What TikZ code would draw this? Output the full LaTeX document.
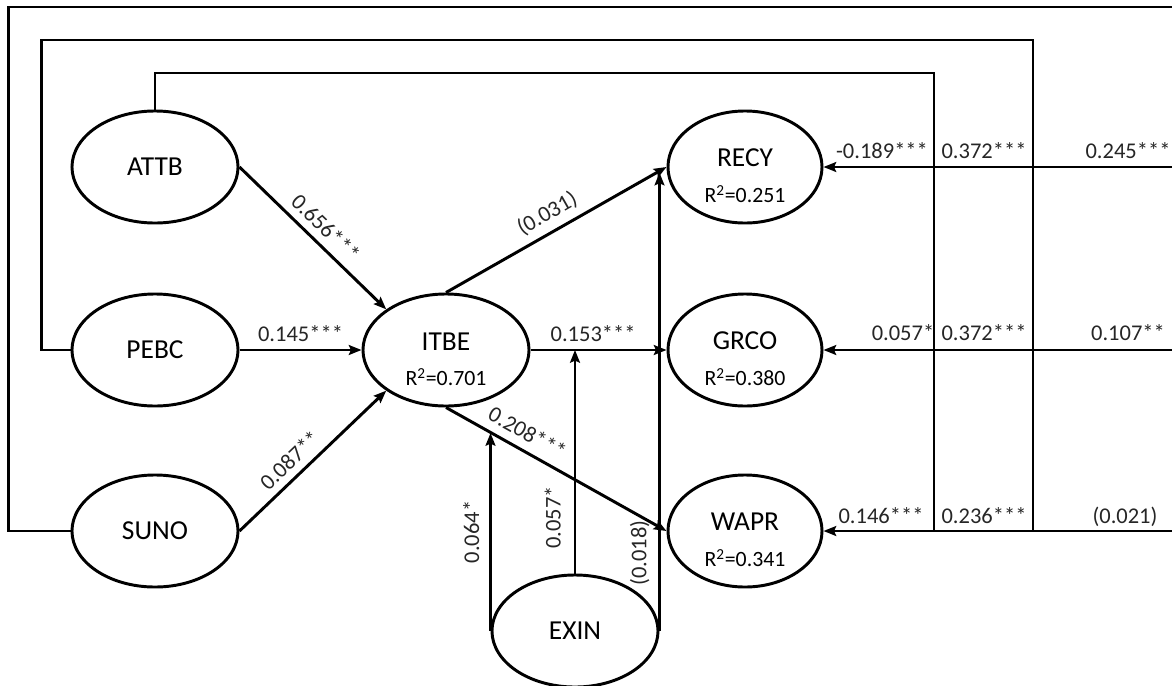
\documentclass[tikz,border=0pt]{standalone}
\usepackage{fontspec}
\setmainfont{Carlito}
\usetikzlibrary{shapes.geometric,arrows.meta}

\begin{document}
\begin{tikzpicture}[x=0.025cm, y=-0.025cm, line width=2.1pt,
	>={Stealth[length=9pt,width=7pt,inset=1.5pt]},
	lat/.style={ellipse, draw, inner sep=0pt,
		minimum width=4.15cm, minimum height=2.8cm,
		font=\fontsize{19.5}{22}\selectfont},
	dip/.style={lat, minimum width=3.85cm},
	nome/.style={inner sep=0pt, font=\fontsize{19.5}{22}\selectfont},
	erre/.style={inner sep=0pt, font=\fontsize{15.5}{18}\selectfont},
	coef/.style={inner sep=1pt, text=black!85, font=\fontsize{16}{19}\selectfont},
	]
	
	\useasboundingbox (0,0) rectangle (1172,685);
	
	%% -- Costrutti a sinistra ------------------------------------------------
	\node[lat] (attb) at (155,167) {ATTB};
	\node[lat] (pebc) at (155,350) {PEBC};
	\node[lat] (suno) at (155,531) {SUNO};
	
	%% -- Intenzione e moderatore ---------------------------------------------
	\node[lat] (itbe) at (446,350) {};
	\node[nome] (itbeN) at (446,342) {ITBE};
	\node[erre] (itbeR) at (446,377) {R\textsuperscript{2}=0.701};
	\node[lat] (exin) at (575,631) {EXIN};
	
	%% -- Comportamenti -------------------------------------------------------
	\node[dip] (recy) at (745,167) {};
	\node[nome] (recyN) at (745,158) {RECY};
	\node[erre] (recyR) at (745,194) {R\textsuperscript{2}=0.251};
	\node[dip] (grco) at (745,350) {};
	\node[nome] (grcoN) at (745,341) {GRCO};
	\node[erre] (grcoR) at (745,377) {R\textsuperscript{2}=0.380};
	\node[dip] (wapr) at (745,531) {};
	\node[nome] (waprN) at (745,522) {WAPR};
	\node[erre] (waprR) at (745,558) {R\textsuperscript{2}=0.341};
	
	%% -- Percorsi verso ITBE -------------------------------------------------
	\draw[->] (attb.east) -- node[coef, sloped, above=4pt, pos=0.51] (c656) {0.656***} (itbe.north west);
	\draw[->] (pebc.east) -- node[coef, above=4pt] (c145) {0.145***} (itbe.west);
	\draw[->] (suno.east) -- node[coef, sloped, above=4pt, pos=0.42] (c087) {0.087**} (itbe.south west);
	
	%% -- Percorsi da ITBE ----------------------------------------------------
	\draw[->] (itbe.north) -- node[coef, sloped, above=4pt, pos=0.5] (c031) {(0.031)}
		coordinate[pos=0.955] (mRecy) (recy.west);
	\draw[->] (itbe.east) -- node[coef, above=4pt, pos=0.46] (c153) {0.153***}
		coordinate[pos=0.331] (mGrco) (grco.west);
	\draw[->] (itbe.south) -- node[coef, sloped, above=5pt, pos=0.33] (c208) {0.208***}
		coordinate[pos=0.207] (mWapr) (wapr.west);
	
	%% -- Moderazione di EXIN -------------------------------------------------
	\draw[->] (exin.west) -- node[coef, sloped, above=6pt, pos=0.5] (c064) {0.064*} (exin.west |- mWapr);
	\draw[->] (exin.north) -- node[coef, sloped, above=8pt, pos=0.25] (c057a) {0.057*} (exin.north |- mGrco);
	\draw[->] (exin.east) -- node[coef, sloped, above=5pt, pos=0.17] (c018) {(0.018)} (exin.east |- mRecy);
	
	%% -- Anelli di ritorno ---------------------------------------------------
	\coordinate (tA) at (934,73);
	\coordinate (tP) at (1033,40);
	\coordinate (tS) at (1221,7);
	\draw (attb.north) |- (tA) -- (tA |- wapr);
	\draw (pebc.west) -- ++(-29,0) |- (tP) -- (tP |- wapr);
	\draw (suno.west) -- ++(-62,0) |- (tS) -- (tS |- wapr);
	\draw[->] (tS |- recy) -- (recy.east);
	\draw[->] (tS |- grco) -- (grco.east);
	\draw[->] (tS |- wapr) -- (wapr.east);
	
	%% -- Coefficienti a destra -----------------------------------------------
	\node[coef, anchor=base] (k1a) at (882,158) {-0.189***};
	\node[coef, anchor=base] (k1b) at (984,158) {0.372***};
	\node[coef, anchor=base] (k1c) at (1128,158) {0.245***};
	\node[coef, anchor=base] (k2a) at (903,340) {0.057*};
	\node[coef, anchor=base] (k2b) at (984,340) {0.372***};
	\node[coef, anchor=base] (k2c) at (1128,340) {0.107**};
	\node[coef, anchor=base] (k3a) at (881,523) {0.146***};
	\node[coef, anchor=base] (k3b) at (984,523) {0.236***};
	\node[coef, anchor=base] (k3c) at (1125,523) {(0.021)};
	
\end{tikzpicture}
\end{document}
